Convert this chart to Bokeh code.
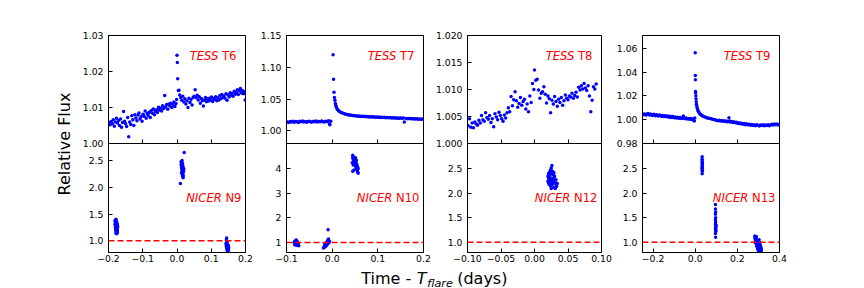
from bokeh.plotting import figure
from bokeh.models import Range1d, LinearAxis, FixedTicker, Label, Span
from bokeh.layouts import row, column
from bokeh.embed import file_html
from bokeh.resources import INLINE

FONT = "DejaVu Sans"
BLUE = "#0000ff"
RED = "#ff0000"

# ---------------- data (time in days, relative flux) ----------------
T6 = [(-0.198,1.0058),(-0.195,1.0052),(-0.192,1.0061),(-0.189,1.0055),(-0.186,1.0066),(-0.183,1.0048),
      (-0.180,1.0060),(-0.177,1.0070),(-0.174,1.0057),(-0.171,1.0064),(-0.168,1.0050),(-0.165,1.0068),
      (-0.162,1.0045),(-0.159,1.0058),(-0.156,1.0089),(-0.153,1.0062),(-0.150,1.0055),(-0.147,1.0047),
      (-0.144,1.0072),(-0.141,1.0019),(-0.138,1.0060),(-0.135,1.0053),(-0.132,1.0077),(-0.129,1.0066),
      (-0.126,1.0050),(-0.123,1.0080),(-0.120,1.0071),(-0.117,1.0063),(-0.114,1.0079),(-0.111,1.0085),
      (-0.108,1.0068),(-0.105,1.0074),(-0.102,1.0062),(-0.099,1.0081),(-0.096,1.0076),(-0.093,1.0090),
      (-0.090,1.0070),(-0.087,1.0083),(-0.084,1.0078),(-0.081,1.0087),(-0.078,1.0072),(-0.075,1.0092),
      (-0.072,1.0084),(-0.069,1.0096),(-0.066,1.0080),(-0.063,1.0089),(-0.060,1.0094),(-0.057,1.0086),
      (-0.054,1.0101),(-0.051,1.0093),(-0.048,1.0098),(-0.045,1.0090),(-0.042,1.0105),(-0.039,1.0097),
      (-0.036,1.0133),(-0.033,1.0102),(-0.030,1.0108),(-0.027,1.0095),(-0.024,1.0110),(-0.021,1.0104),
      (-0.018,1.0112),(-0.015,1.0100),(-0.012,1.0108),(-0.009,1.0115),(-0.006,1.0103),(-0.003,1.0111),
      (-0.001,1.0122),(0.000,1.0245),(0.001,1.0225),(0.002,1.0180),(0.004,1.0147),(0.006,1.0148),
      (0.008,1.0135),(0.011,1.0128),(0.014,1.0120),(0.017,1.0131),(0.020,1.0115),(0.023,1.0124),
      (0.026,1.0110),(0.029,1.0119),(0.032,1.0100),(0.035,1.0126),(0.038,1.0114),(0.041,1.0122),
      (0.044,1.0107),(0.047,1.0128),(0.050,1.0131),(0.053,1.0149),(0.056,1.0127),(0.059,1.0134),
      (0.062,1.0121),(0.065,1.0130),(0.068,1.0112),(0.071,1.0125),(0.074,1.0119),(0.077,1.0104),
      (0.080,1.0121),(0.083,1.0128),(0.086,1.0116),(0.089,1.0124),(0.092,1.0118),(0.095,1.0126),
      (0.098,1.0120),(0.101,1.0129),(0.104,1.0117),(0.107,1.0125),(0.110,1.0122),(0.113,1.0130),
      (0.116,1.0119),(0.119,1.0127),(0.122,1.0121),(0.125,1.0133),(0.128,1.0124),(0.131,1.0136),
      (0.134,1.0128),(0.137,1.0132),(0.140,1.0126),(0.143,1.0138),(0.146,1.0120),(0.149,1.0135),
      (0.152,1.0129),(0.155,1.0141),(0.158,1.0133),(0.161,1.0139),(0.164,1.0131),(0.167,1.0145),
      (0.170,1.0137),(0.173,1.0142),(0.176,1.0149),(0.179,1.0136),(0.182,1.0146),(0.185,1.0153),
      (0.188,1.0140),(0.191,1.0147),(0.194,1.0138),(0.197,1.0144),(0.199,1.0121)]

T7 = [(-0.098,1.0140),(-0.095,1.0132),(-0.092,1.0146),(-0.089,1.0138),(-0.086,1.0150),(-0.083,1.0135),
      (-0.080,1.0147),(-0.077,1.0142),(-0.074,1.0129),(-0.071,1.0151),(-0.068,1.0144),(-0.065,1.0156),
      (-0.062,1.0139),(-0.059,1.0148),(-0.056,1.0133),(-0.053,1.0145),(-0.050,1.0152),(-0.047,1.0140),
      (-0.044,1.0137),(-0.041,1.0149),(-0.038,1.0143),(-0.035,1.0155),(-0.032,1.0138),(-0.029,1.0146),
      (-0.026,1.0141),(-0.023,1.0153),(-0.020,1.0144),(-0.017,1.0137),(-0.014,1.0150),(-0.011,1.0145),
      (-0.008,1.0158),(-0.006,1.0108),(-0.005,1.0096),(-0.003,1.0152),(0.002,1.1196),(0.003,1.0810),
      (0.004,1.0605),(0.005,1.0525),(0.006,1.0480),(0.007,1.0430),(0.008,1.0400),(0.009,1.0380),
      (0.010,1.0355),(0.012,1.0330),(0.014,1.0320),(0.016,1.0305),(0.018,1.0295),(0.021,1.0285),
      (0.024,1.0275),(0.027,1.0270),(0.030,1.0262),(0.033,1.0258),(0.036,1.0250),(0.039,1.0247),
      (0.042,1.0244),(0.045,1.0240),(0.048,1.0236),(0.051,1.0238),(0.054,1.0231),(0.057,1.0229),
      (0.060,1.0233),(0.063,1.0226),(0.066,1.0230),(0.069,1.0224),(0.072,1.0227),(0.075,1.0221),
      (0.078,1.0225),(0.081,1.0219),(0.084,1.0222),(0.087,1.0218),(0.090,1.0221),(0.093,1.0215),
      (0.096,1.0219),(0.099,1.0213),(0.102,1.0217),(0.105,1.0211),(0.108,1.0215),(0.111,1.0209),
      (0.114,1.0213),(0.117,1.0207),(0.120,1.0211),(0.123,1.0205),(0.126,1.0209),(0.129,1.0203),
      (0.132,1.0207),(0.135,1.0201),(0.138,1.0205),(0.141,1.0199),(0.144,1.0203),(0.147,1.0198),
      (0.150,1.0202),(0.153,1.0196),(0.156,1.0200),(0.158,1.0140),(0.162,1.0195),(0.165,1.0190),
      (0.168,1.0194),(0.171,1.0189),(0.174,1.0192),(0.177,1.0186),(0.180,1.0190),(0.183,1.0184),
      (0.186,1.0188),(0.189,1.0182),(0.192,1.0186),(0.195,1.0180),(0.198,1.0184)]

T8 = [(-0.099,1.0033),(-0.097,1.0046),(-0.095,1.0030),(-0.093,1.0038),(-0.091,1.0029),(-0.089,1.0040),
      (-0.087,1.0036),(-0.085,1.0034),(-0.083,1.0043),(-0.081,1.0038),(-0.079,1.0052),(-0.077,1.0044),
      (-0.075,1.0041),(-0.073,1.0057),(-0.071,1.0048),(-0.069,1.0045),(-0.067,1.0052),(-0.065,1.0039),
      (-0.063,1.0046),(-0.061,1.0031),(-0.059,1.0055),(-0.057,1.0049),(-0.055,1.0044),(-0.053,1.0058),
      (-0.051,1.0052),(-0.049,1.0046),(-0.047,1.0041),(-0.045,1.0053),(-0.043,1.0047),(-0.041,1.0057),
      (-0.039,1.0066),(-0.037,1.0059),(-0.035,1.0087),(-0.033,1.0070),(-0.031,1.0081),(-0.029,1.0096),
      (-0.027,1.0079),(-0.025,1.0067),(-0.023,1.0074),(-0.021,1.0085),(-0.019,1.0071),(-0.017,1.0078),
      (-0.015,1.0082),(-0.013,1.0064),(-0.011,1.0073),(-0.009,1.0059),(-0.007,1.0088),(-0.005,1.0076),
      (-0.003,1.0111),(-0.001,1.0100),(0.000,1.0136),(0.002,1.0117),(0.004,1.0119),(0.006,1.0099),
      (0.008,1.0084),(0.010,1.0093),(0.012,1.0096),(0.014,1.0105),(0.016,1.0091),(0.018,1.0075),
      (0.020,1.0088),(0.022,1.0083),(0.024,1.0057),(0.026,1.0080),(0.028,1.0073),(0.030,1.0087),
      (0.032,1.0078),(0.034,1.0069),(0.036,1.0082),(0.038,1.0076),(0.040,1.0085),(0.042,1.0071),
      (0.044,1.0079),(0.046,1.0090),(0.048,1.0084),(0.050,1.0081),(0.052,1.0088),(0.054,1.0086),
      (0.056,1.0093),(0.058,1.0084),(0.060,1.0089),(0.062,1.0095),(0.064,1.0086),(0.066,1.0104),
      (0.068,1.0099),(0.070,1.0107),(0.072,1.0101),(0.074,1.0111),(0.076,1.0103),(0.078,1.0098),
      (0.080,1.0107),(0.082,1.0088),(0.084,1.0059),(0.086,1.0080),(0.088,1.0105),(0.090,1.0101),
      (0.092,1.0110)]

T9 = [(-0.248,1.0045),(-0.244,1.0041),(-0.240,1.0048),(-0.236,1.0043),(-0.232,1.0040),(-0.228,1.0046),
      (-0.224,1.0051),(-0.220,1.0044),(-0.216,1.0039),(-0.212,1.0047),(-0.208,1.0042),(-0.204,1.0036),
      (-0.200,1.0041),(-0.196,1.0045),(-0.192,1.0038),(-0.188,1.0034),(-0.184,1.0042),(-0.180,1.0037),
      (-0.176,1.0030),(-0.172,1.0036),(-0.168,1.0040),(-0.164,1.0033),(-0.160,1.0028),(-0.156,1.0035),
      (-0.152,1.0031),(-0.148,1.0026),(-0.144,1.0033),(-0.140,1.0029),(-0.136,1.0024),(-0.132,1.0031),
      (-0.128,1.0027),(-0.124,1.0021),(-0.120,1.0028),(-0.116,1.0024),(-0.112,1.0019),(-0.108,1.0026),
      (-0.104,1.0022),(-0.100,1.0017),(-0.096,1.0023),(-0.092,1.0019),(-0.088,1.0014),(-0.084,1.0021),
      (-0.080,1.0017),(-0.076,1.0012),(-0.072,1.0018),(-0.068,1.0014),(-0.064,1.0010),(-0.060,1.0016),
      (-0.056,1.0031),(-0.052,1.0012),(-0.048,1.0008),(-0.044,1.0014),(-0.040,1.0010),(-0.036,1.0005),
      (-0.032,1.0011),(-0.028,1.0007),(-0.024,1.0003),(-0.020,1.0009),(-0.016,1.0004),(-0.012,0.9999),
      (-0.008,1.0006),(-0.004,0.9988),(-0.002,1.0015),
      (0.000,1.0562),(0.0005,1.0371),(0.001,1.0335),(0.0015,1.0237),(0.002,1.0226),(0.003,1.0200),
      (0.004,1.0175),(0.005,1.0150),(0.006,1.0130),(0.008,1.0110),(0.010,1.0095),(0.012,1.0082),
      (0.015,1.0070),(0.018,1.0060),(0.022,1.0050),(0.026,1.0043),(0.030,1.0037),(0.035,1.0031),
      (0.040,1.0027),(0.046,1.0022),(0.052,1.0018),(0.058,1.0015),(0.064,1.0012),(0.070,1.0009),
      (0.076,1.0007),(0.082,1.0004),(0.088,1.0002),(0.094,1.0000),
      (0.100,0.9995),(0.106,0.9991),(0.112,0.9996),(0.118,0.9989),(0.124,0.9993),(0.130,0.9986),
      (0.136,0.9991),(0.142,0.9984),(0.148,0.9988),(0.154,0.9982),(0.160,1.0016),(0.163,0.9990),
      (0.166,0.9980),(0.172,0.9985),(0.178,0.9977),(0.184,0.9982),(0.190,0.9974),(0.196,0.9979),
      (0.202,0.9968),(0.208,0.9975),(0.214,0.9965),(0.220,0.9971),(0.226,0.9962),(0.232,0.9968),
      (0.238,0.9958),(0.244,0.9965),(0.250,0.9957),(0.256,0.9962),(0.262,0.9954),(0.268,0.9960),
      (0.274,0.9952),(0.280,0.9958),(0.286,0.9950),(0.292,0.9957),(0.298,0.9953),(0.304,0.9948),
      (0.310,0.9956),(0.316,0.9951),(0.322,0.9957),(0.328,0.9949),(0.334,0.9955),(0.340,0.9952),
      (0.346,0.9958),(0.352,0.9950),(0.358,0.9956),(0.364,0.9961),(0.370,0.9955),(0.376,0.9963),
      (0.382,0.9958),(0.388,0.9964),(0.394,0.9956),(0.399,0.9960)]

N9 = [(-0.181,1.38),(-0.180,1.35),(-0.181,1.31),(-0.179,1.28),(-0.180,1.25),(-0.178,1.22),(-0.179,1.19),
      (-0.177,1.16),(-0.178,1.14),(-0.176,1.18),(-0.177,1.21),(-0.175,1.24),(-0.176,1.27),(-0.174,1.30),
      (-0.175,1.33),(-0.177,1.36),(-0.178,1.40),(-0.176,1.13),(-0.174,1.20),(-0.173,1.26),(-0.179,1.32),
      (-0.180,1.29),(-0.175,1.17),(-0.174,1.15),(-0.178,1.34),(-0.176,1.23),
      (0.012,2.48),(0.013,2.45),(0.012,2.42),(0.014,2.40),(0.013,2.37),(0.015,2.35),(0.014,2.33),
      (0.016,2.30),(0.015,2.28),(0.017,2.26),(0.016,2.24),(0.018,2.22),(0.017,2.20),(0.015,2.38),
      (0.018,2.32),(0.016,2.44),(0.019,2.36),(0.017,2.41),(0.013,2.27),(0.019,2.29),(0.014,2.47),
      (0.018,2.18),(0.010,2.07),(0.021,2.65),(0.015,2.50),(0.016,2.21),(0.020,2.34),
      (0.145,1.05),(0.144,1.01),(0.146,0.98),(0.145,0.96),(0.147,0.94),(0.144,0.92),(0.146,0.90),
      (0.148,0.89),(0.145,0.87),(0.147,0.86),(0.149,0.85),(0.146,0.84),(0.148,0.83),(0.150,0.82),
      (0.147,0.81),(0.149,0.88),(0.143,0.95),(0.150,0.91),(0.146,0.93),(0.148,0.80),(0.151,0.87),
      (0.144,0.89)]

N10 = [(-0.082,1.05),(-0.080,1.02),(-0.078,0.99),(-0.081,0.97),(-0.079,0.95),(-0.077,0.92),(-0.080,0.90),
       (-0.076,0.88),(-0.083,1.00),(-0.078,1.08),(-0.075,0.96),(-0.074,0.93),(-0.077,1.04),(-0.081,0.94),
       (-0.073,0.86),(-0.079,1.10),(-0.076,1.01),(-0.082,0.91),
       (-0.018,0.80),(-0.017,0.84),(-0.016,0.88),(-0.015,0.91),(-0.014,0.94),(-0.013,0.97),(-0.012,1.00),
       (-0.011,1.03),(-0.010,1.06),(-0.009,1.10),(-0.008,1.14),(-0.015,0.82),(-0.013,0.86),(-0.011,0.92),
       (-0.009,0.96),(-0.007,1.00),(-0.006,1.05),(-0.019,0.77),(-0.016,0.93),(-0.010,0.99),(-0.008,1.08),
       (-0.012,0.90),(-0.009,1.52),
       (0.045,4.55),(0.046,4.50),(0.045,4.45),(0.047,4.42),(0.046,4.38),(0.048,4.35),(0.047,4.30),
       (0.049,4.27),(0.048,4.22),(0.050,4.18),(0.051,4.12),(0.052,4.08),(0.053,4.02),(0.054,3.97),
       (0.055,3.92),(0.056,3.86),(0.057,3.82),(0.050,4.40),(0.052,4.30),(0.054,4.20),(0.055,4.10),
       (0.056,4.05),(0.044,4.25),(0.046,4.15),(0.048,3.95),(0.045,3.90),(0.053,4.35),(0.057,4.00),
       (0.051,4.45)]

N12 = [(0.026,2.57),(0.025,2.52),(0.024,2.48),(0.023,2.45),(0.022,2.42),(0.021,2.40),(0.022,2.37),
       (0.023,2.34),(0.021,2.31),(0.022,2.28),(0.020,2.25),(0.021,2.21),(0.022,2.18),(0.024,2.15),
       (0.026,2.30),(0.027,2.45),(0.028,2.38),(0.029,2.32),(0.030,2.27),(0.031,2.22),(0.032,2.18),
       (0.033,2.14),(0.031,2.10),(0.029,2.12),(0.027,2.20),(0.028,2.25),(0.030,2.35),(0.025,2.40),
       (0.024,2.26),(0.032,2.28),(0.026,2.17),(0.023,2.22),(0.034,2.20),(0.029,2.42),(0.020,2.35),
       (0.025,2.10)]

N13 = [(0.033,2.75),(0.033,2.70),(0.033,2.66),(0.034,2.63),(0.033,2.60),(0.034,2.57),(0.033,2.54),
       (0.034,2.51),(0.033,2.48),(0.034,2.45),(0.033,2.40),(0.034,2.62),(0.033,2.52),
       (0.096,1.77),(0.096,1.68),(0.097,1.62),(0.096,1.57),(0.097,1.50),(0.096,1.45),(0.097,1.41),
       (0.096,1.37),(0.098,1.34),(0.097,1.31),(0.096,1.28),(0.098,1.26),(0.097,1.23),(0.096,1.18),
       (0.097,1.10),(0.098,1.30),(0.099,1.35),(0.098,1.22),
       (0.283,1.13),(0.284,1.10),(0.285,1.08),(0.286,1.06),(0.287,1.04),(0.288,1.02),(0.289,1.00),
       (0.290,0.98),(0.291,0.96),(0.292,0.95),(0.293,0.93),(0.294,0.92),(0.295,0.90),(0.296,0.89),
       (0.297,0.87),(0.298,0.86),(0.299,0.85),(0.300,0.84),(0.301,0.83),(0.302,0.82),(0.288,1.09),
       (0.290,1.05),(0.292,1.01),(0.294,0.99),(0.296,0.97),(0.298,0.94),(0.300,0.92),(0.302,0.90),
       (0.304,0.88),(0.306,0.86),(0.308,0.84),(0.310,0.82),(0.303,1.05),(0.305,1.00),(0.307,0.96),
       (0.309,0.93),(0.311,0.91),(0.312,0.88),(0.313,0.86),(0.314,0.83),(0.286,0.99),(0.291,1.11),
       (0.297,1.02),(0.301,0.97),(0.306,0.93)]

REF_LEVEL = 1.0

# ---------------- axes: ranges, ticks, tick labels ----------------
X_RANGES = [(-0.2, 0.2), (-0.1, 0.2), (-0.1, 0.1), (-0.25, 0.4)]
X_TICKS = [[-0.2, -0.1, 0.0, 0.1, 0.2], [-0.1, 0.0, 0.1, 0.2],
           [-0.10, -0.05, 0.0, 0.05, 0.10], [-0.2, 0.0, 0.2, 0.4]]
X_LABELS = [["\u22120.2", "\u22120.1", "0.0", "0.1", "0.2"], ["\u22120.1", "0.0", "0.1", "0.2"],
            ["\u22120.10", "\u22120.05", "0.00", "0.05", "0.10"], ["\u22120.2", "0.0", "0.2", "0.4"]]
TOP_RANGES = [(1.00, 1.03), (0.98, 1.15), (1.000, 1.020), (0.98, 1.0707)]
TOP_TICKS = [[1.00, 1.01, 1.02, 1.03], [1.00, 1.05, 1.10, 1.15],
             [1.000, 1.005, 1.010, 1.015, 1.020], [0.98, 1.00, 1.02, 1.04, 1.06]]
TOP_LABELS = [["1.00", "1.01", "1.02", "1.03"], ["1.00", "1.05", "1.10", "1.15"],
              ["1.000", "1.005", "1.010", "1.015", "1.020"], ["0.98", "1.00", "1.02", "1.04", "1.06"]]
BOT_RANGES = [(0.78, 2.82), (0.59, 5.03), (0.79, 3.02), (0.79, 3.02)]
BOT_TICKS = [[1.0, 1.5, 2.0, 2.5], [1, 2, 3, 4], [1.0, 1.5, 2.0, 2.5], [1.0, 1.5, 2.0, 2.5]]
BOT_LABELS = [["1.0", "1.5", "2.0", "2.5"], ["1", "2", "3", "4"],
              ["1.0", "1.5", "2.0", "2.5"], ["1.0", "1.5", "2.0", "2.5"]]
TESS_IDS = ["T6", "T7", "T8", "T9"]
NICER_IDS = ["N9", "N10", "N12", "N13"]
TESS_DATA = [T6, T7, T8, T9]
NICER_DATA = [N9, N10, N12, N13]

# ---------------- layout constants (pixels) ----------------
FW, HT, HB = 137, 108, 109
FH = HT + HB
TOP_B, BOT_B = 35, 15
XL_H = 288 - (TOP_B + FH + BOT_B)
BORDERS = [(108, 9), (32, 9), (32, 11), (30, 10)]
TICK_PX = "9.3px"
TXT_PX = "11.6px"
LAB_PX = "16px"
CH = 11.6  # panel label font px (for word spacing)


def style_axis(ax, ticks, labels, standoff):
    ax.ticker = FixedTicker(ticks=ticks, minor_ticks=[])
    ax.major_label_overrides = {t: l for t, l in zip(ticks, labels)}
    ax.major_tick_in = 4
    ax.major_tick_out = 0
    ax.minor_tick_line_color = None
    ax.axis_line_color = "black"
    ax.major_tick_line_color = "black"
    ax.major_label_text_font = FONT
    ax.major_label_text_font_size = TICK_PX
    ax.major_label_text_color = "black"
    ax.major_label_standoff = standoff


def make_column(i):
    left, right = BORDERS[i]
    xr = X_RANGES[i]
    b0, b1 = BOT_RANGES[i]
    t0, t1 = TOP_RANGES[i]
    Y0, Y1 = b0, b0 + (b1 - b0) * FH / HB          # lower panel range stretched over full frame
    T0, T1 = t0 - (t1 - t0) * HB / HT, t1          # upper panel range stretched over full frame
    p = figure(width=left + FW + right, height=TOP_B + FH + BOT_B,
               x_range=Range1d(*xr), y_range=Range1d(Y0, Y1),
               output_backend="svg", toolbar_location=None,
               min_border_left=left, min_border_right=right,
               min_border_top=TOP_B, min_border_bottom=BOT_B)
    p.extra_y_ranges = {"top": Range1d(T0, T1)}
    p.xgrid.visible = False
    p.ygrid.visible = False
    p.outline_line_color = "black"
    p.outline_line_alpha = 1.0
    p.background_fill_color = "white"
    p.border_fill_color = "white"

    xa = p.xaxis[0]
    style_axis(xa, X_TICKS[i], X_LABELS[i], 2)

    # one left axis carries both panels' ticks: upper-panel ticks are placed via the upper range
    top_pos = [Y0 + (v - T0) * (Y1 - Y0) / (T1 - T0) for v in TOP_TICKS[i]]
    ya = p.yaxis[0]
    style_axis(ya, list(BOT_TICKS[i]) + top_pos, list(BOT_LABELS[i]) + TOP_LABELS[i], 5)
    if i == 0:
        ya.axis_label = "Relative Flux"
        ya.axis_label_text_font = FONT
        ya.axis_label_text_font_size = LAB_PX
        ya.axis_label_text_font_style = "normal"
        ya.axis_label_text_color = "black"
        ya.axis_label_standoff = 6

    # boundary between the two panels with inward ticks
    ma = LinearAxis(fixed_location=b1)
    style_axis(ma, X_TICKS[i], [""] * len(X_TICKS[i]), 0)
    ma.major_label_text_font_size = "0px"
    p.add_layout(ma, "below")

    tess = TESS_DATA[i]
    p.scatter([a for a, _ in tess], [b for _, b in tess], y_range_name="top",
              size=3.5, fill_color=BLUE, line_color=None)
    nicer = NICER_DATA[i]
    p.scatter([a for a, _ in nicer], [b for _, b in nicer],
              size=3.5, fill_color=BLUE, line_color=None)
    p.add_layout(Span(location=REF_LEVEL, dimension="width", line_color=RED,
                      line_dash="6 3", line_width=1.5))

    tid = TESS_IDS[i]
    w_t = 0.611 * CH + 0.636 * CH * (len(tid) - 1) + 0.318 * CH
    p.add_layout(Label(x=xr[1], y=t1, y_range_name="top", x_offset=-9, y_offset=-20.5,
                       text=tid, text_align="right", text_baseline="alphabetic",
                       text_font=FONT, text_font_size=TXT_PX, text_color=RED))
    p.add_layout(Label(x=xr[1], y=t1, y_range_name="top", x_offset=-9 - w_t, y_offset=-20.5,
                       text="TESS", text_align="right", text_baseline="alphabetic",
                       text_font=FONT, text_font_size=TXT_PX, text_font_style="italic",
                       text_color=RED))
    nid = NICER_IDS[i]
    w_n = 0.748 * CH + 0.636 * CH * (len(nid) - 1) + 0.318 * CH
    p.add_layout(Label(x=xr[1], y=b0, x_offset=-4, y_offset=54.5,
                       text=nid, text_align="right", text_baseline="alphabetic",
                       text_font=FONT, text_font_size=TXT_PX, text_color=RED))
    p.add_layout(Label(x=xr[1], y=b0, x_offset=-4 - w_n, y_offset=54.5,
                       text="NICER", text_align="right", text_baseline="alphabetic",
                       text_font=FONT, text_font_size=TXT_PX, text_font_style="italic",
                       text_color=RED))
    return p


cols = [make_column(i) for i in range(4)]
total_w = sum(c.width for c in cols)

# x-axis label strip (coordinates in this strip are pixels, measured from its bottom)
xl = figure(width=total_w, height=XL_H, x_range=Range1d(0, total_w), y_range=Range1d(0, XL_H),
            output_backend="svg", toolbar_location=None,
            min_border_left=0, min_border_right=0, min_border_top=0, min_border_bottom=0,
            x_axis_location=None, y_axis_location=None)
xl.outline_line_color = None
xl.xgrid.visible = False
xl.ygrid.visible = False
xl.border_fill_color = "white"
xl.background_fill_color = "white"
mid = XL_H / 2.0 - 0.5
x0 = 360.7
pieces = [("Time -", "normal", LAB_PX, x0, mid),
          ("T", "italic", LAB_PX, x0 + 55.6, mid),
          ("flare", "italic", "11.2px", x0 + 66.0, mid - 4.5),
          ("(days)", "normal", LAB_PX, x0 + 96.0, mid)]
for txt, sty, sz, xx, yy in pieces:
    xl.add_layout(Label(x=xx, y=yy, text=txt, text_font=FONT, text_font_size=sz,
                        text_font_style=sty, text_color="black", text_align="left",
                        text_baseline="middle"))

layout = column(row(*cols), xl)
open("out.html", "w").write(file_html(layout, INLINE))
